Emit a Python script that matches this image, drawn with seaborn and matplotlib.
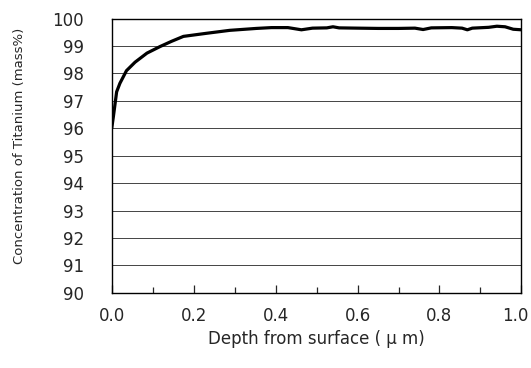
import numpy as np
import pandas as pd
import matplotlib
matplotlib.use("Agg")
import matplotlib.pyplot as plt
import matplotlib.transforms as mtransforms
from matplotlib.ticker import MultipleLocator
import seaborn as sns

# depth profile
depth_um = [0.0, 0.004, 0.012, 0.02, 0.036, 0.057, 0.086, 0.118, 0.146, 0.175,
            0.23, 0.288, 0.353, 0.39, 0.43, 0.463, 0.49, 0.525, 0.54, 0.555,
            0.6, 0.65, 0.7, 0.74, 0.76, 0.78, 0.83, 0.855, 0.868, 0.88,
            0.92, 0.94, 0.96, 0.98, 1.0]
ti_mass = [96.0, 96.42, 97.33, 97.64, 98.1, 98.41, 98.74, 98.98, 99.17, 99.35,
           99.46, 99.57, 99.64, 99.67, 99.67, 99.59, 99.65, 99.66, 99.7, 99.66,
           99.65, 99.64, 99.64, 99.65, 99.6, 99.66, 99.67, 99.65, 99.59, 99.65,
           99.68, 99.72, 99.7, 99.61, 99.59]
x_ticks = [0.0, 0.2, 0.4, 0.6, 0.8, 1.0]
y_ticks = list(range(90, 101))

df = pd.DataFrame({'depth': depth_um, 'ti': ti_mass})

sns.set_style("white")
plt.rcParams['font.family'] = ['DejaVu Sans']

fig = plt.figure(figsize=(5.31, 3.68), dpi=100)
ax = fig.add_axes([0.2104, 0.204, 0.7716, 0.7456])

sns.lineplot(data=df, x='depth', y='ti', ax=ax, color='black', linewidth=2.3)

ax.set_xlim(0, 1.0)
ax.set_ylim(90, 100)
ax.set_xticks(x_ticks)
ax.set_xticklabels([f"{v:.1f}" for v in x_ticks])
ax.xaxis.set_minor_locator(MultipleLocator(0.1))
ax.set_yticks(y_ticks)
ax.yaxis.grid(True, color='#444444', linewidth=0.7)

ax.tick_params(axis='x', which='major', direction='in', length=6, width=0.9,
               labelsize=12, pad=10, bottom=True)
ax.tick_params(axis='x', which='minor', direction='in', length=4, width=0.9, bottom=True)
ax.tick_params(axis='y', length=0, labelsize=12, pad=20)

# last x label sits a little left so it stays inside the figure
last = ax.get_xticklabels()[-1]
last.set_transform(last.get_transform() +
                   mtransforms.ScaledTranslation(-0.06, 0, fig.dpi_scale_trans))

for s in ax.spines.values():
    s.set_color('black')
    s.set_linewidth(1.0)

ax.set_xlabel('Depth from surface ( \u03bc m)', fontsize=12, labelpad=4)
ax.set_ylabel('Concentration of Titanium (mass%)', fontsize=9.5)
ax.yaxis.set_label_coords(-0.21, 0.535)

fig.savefig('out.png', dpi=100)
